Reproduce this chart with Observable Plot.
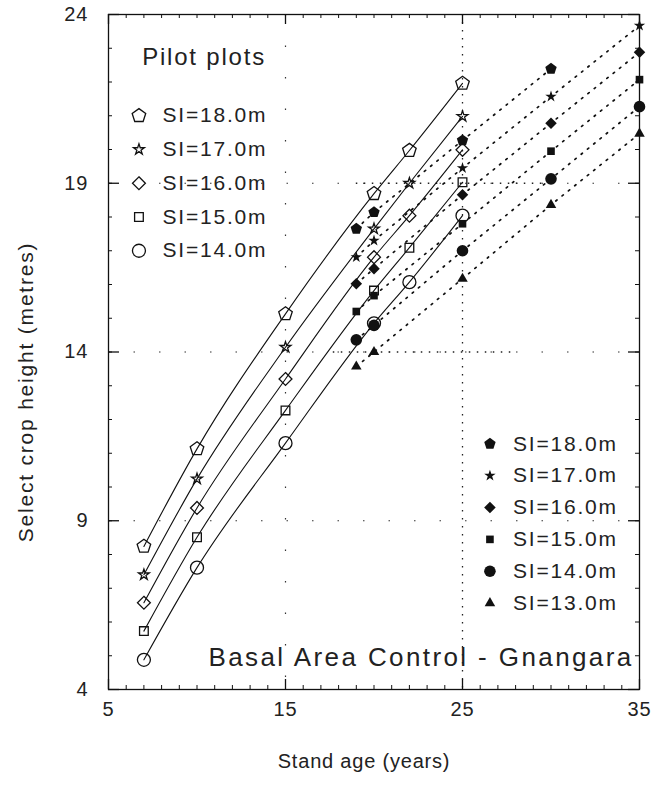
<!DOCTYPE html>
<html><head><meta charset="utf-8">
<script src="https://cdn.jsdelivr.net/npm/d3@7"></script>
<script src="https://cdn.jsdelivr.net/npm/@observablehq/plot@0.6"></script>
<style>
html,body{margin:0;padding:0;background:#fff;}
#chart{width:666px;height:785px;}
</style></head><body><div id="chart"></div>
<script>
// ---- data ----
const pilotAges = [7, 10, 15, 20, 22, 25];
const pilotSI18 = [8.24, 11.13, 15.13, 18.69, 19.97, 21.96];
const pilotSI17 = [7.40, 10.24, 14.14, 17.65, 19.00, 20.98];
const pilotSI16 = [6.57, 9.38, 13.20, 16.81, 18.04, 19.99];
const pilotSI15 = [5.73, 8.51, 12.27, 15.82, 17.09, 19.03];
const pilotSI14 = [4.88, 7.61, 11.30, 14.85, 16.07, 18.04];
const pilotLabels = ["SI=18.0m", "SI=17.0m", "SI=16.0m", "SI=15.0m", "SI=14.0m"];

const projAges = [19, 20, 25, 30, 35];
const projSI18 = [17.65, 18.14, 20.27, 22.39, null];
const projSI17 = [16.81, 17.30, 19.45, 21.57, 23.67];
const projSI16 = [16.02, 16.47, 18.66, 20.78, 22.88];
const projSI15 = [15.20, 15.67, 17.80, 19.95, 22.07];
const projSI14 = [14.36, 14.79, 17.00, 19.13, 21.27];
const projSI13 = [13.57, 14.00, 16.17, 18.36, 20.47];
const projLabels = ["SI=18.0m", "SI=17.0m", "SI=16.0m", "SI=15.0m", "SI=14.0m", "SI=13.0m"];

const xTicks = [5, 15, 25, 35];
const yTicks = [4, 9, 14, 19, 24];
const xTitle = "Stand age (years)";
const yTitle = "Select crop height (metres)";
const pilotTitle = "Pilot plots";
const siteTitle = "Basal Area Control - Gnangara";

// ---- styles ----
const pentagon = {draw(ctx, size) {
  const r = Math.sqrt(size / (2.5 * Math.sin(2 * Math.PI / 5)));
  for (let i = 0; i < 5; i++) {
    const a = -Math.PI / 2 + i * 2 * Math.PI / 5;
    const x = r * Math.cos(a), y = r * Math.sin(a);
    i ? ctx.lineTo(x, y) : ctx.moveTo(x, y);
  }
  ctx.closePath();
}};
const pilotStyle = [
  {symbol: pentagon, r: 6.2}, {symbol: "star", r: 3.4}, {symbol: "diamond2", r: 5.8},
  {symbol: "square", r: 4.9}, {symbol: "circle", r: 6.5}];
const projStyle = [
  {symbol: pentagon, r: 5.2}, {symbol: "star", r: 3.6}, {symbol: "diamond2", r: 5.2},
  {symbol: "square", r: 4.3}, {symbol: "circle", r: 5.8}, {symbol: "triangle", r: 3.9}];

const FONT = "Liberation Sans, Arial, Helvetica, sans-serif";
const TXT = "#222";
const W = 666, H = 785, ML = 108, MR = 27, MT = 14, MB = 96;
const PW = W - ML - MR, PH = H - MT - MB;

const pilotSeries = [pilotSI18, pilotSI17, pilotSI16, pilotSI15, pilotSI14];
const projSeries = [projSI18, projSI17, projSI16, projSI15, projSI14, projSI13];
const pilotRows = pilotSeries.map(v => pilotAges.map((a, j) => ({age: a, h: v[j]})));
const projRows = projSeries.map(v => projAges.map((a, j) => ({age: a, h: v[j]})).filter(d => d.h != null));

// legend layout (data space)
const legL = pilotLabels.map((t, i) => ({t, y: 21 - i}));
const legR = projLabels.map((t, i) => ({t, y: 11.28 - i * 0.944}));

const minorX = d3.range(5, 36, 1);
const minorY = d3.range(4, 24.01, 1);

const marks = [];
// sparse dotted grid
marks.push(Plot.ruleY([9, 14, 19], {stroke: "#333", strokeWidth: 1.2, strokeDasharray: "1.5,24"}));
marks.push(Plot.ruleX([15], {stroke: "#333", strokeWidth: 1.2, strokeDasharray: "1.5,30"}));
marks.push(Plot.ruleX([25], {stroke: "#222", strokeWidth: 1.3, strokeDasharray: "1.5,6.5"}));
marks.push(Plot.ruleY([19], {x1: 19, x2: 29.5, stroke: "#222", strokeWidth: 1.3, strokeDasharray: "1.5,6.5"}));
marks.push(Plot.ruleY([14], {x1: 17.7, x2: 28, stroke: "#222", strokeWidth: 1.3, strokeDasharray: "1.5,6.5"}));
// projected dotted lines
projRows.forEach(rows => marks.push(Plot.line(rows, {x: "age", y: "h", stroke: "#111", strokeWidth: 1.7, strokeDasharray: "1.6,6.5", clip: true})));
// pilot solid curves
pilotRows.forEach(rows => marks.push(Plot.line(rows, {x: "age", y: "h", stroke: "#111", strokeWidth: 1.1, curve: "monotone-x"})));
// markers
pilotRows.forEach((rows, i) => marks.push(Plot.dot(rows, {x: "age", y: "h", symbol: pilotStyle[i].symbol, r: pilotStyle[i].r, stroke: "#111", strokeWidth: 1.3, fill: "none"})));
projRows.forEach((rows, i) => marks.push(Plot.dot(rows, {x: "age", y: "h", symbol: projStyle[i].symbol, r: projStyle[i].r, fill: "#111", stroke: "none"})));
// legends
legL.forEach((d, i) => marks.push(Plot.dot([d], {x: () => 6.72, y: "y", symbol: pilotStyle[i].symbol, r: pilotStyle[i].r, stroke: "#111", strokeWidth: 1.3, fill: "white"})));
marks.push(Plot.text(legL, {x: () => 8.05, y: "y", text: "t", textAnchor: "start", fontSize: 21, fontFamily: FONT, fill: TXT}));
legR.forEach((d, i) => marks.push(Plot.dot([d], {x: () => 26.55, y: "y", symbol: projStyle[i].symbol, r: projStyle[i].r, fill: "#111"})));
marks.push(Plot.text(legR, {x: () => 27.85, y: "y", text: "t", textAnchor: "start", fontSize: 21, fontFamily: FONT, fill: TXT}));
marks.push(Plot.text([pilotTitle], {x: () => 6.9, y: () => 22.73, text: d => d, textAnchor: "start", fontSize: 24, fontFamily: FONT, fill: TXT}));
marks.push(Plot.text([siteTitle], {x: () => 10.65, y: () => 4.93, text: d => d, textAnchor: "start", fontSize: 26, fontFamily: FONT, fill: TXT}));
// frame + inward ticks
marks.push(Plot.frame({stroke: "#111", strokeWidth: 1.3}));
marks.push(Plot.tickX(minorX, {x: d => d, insetTop: PH - 4, stroke: "#111"}));
marks.push(Plot.tickX(minorX, {x: d => d, insetBottom: PH - 4, stroke: "#111"}));
marks.push(Plot.tickX(xTicks, {x: d => d, insetTop: PH - 10, stroke: "#111", strokeWidth: 1.3}));
marks.push(Plot.tickX(xTicks, {x: d => d, insetBottom: PH - 10, stroke: "#111", strokeWidth: 1.3}));
marks.push(Plot.tickY(minorY, {y: d => d, insetRight: PW - 4, stroke: "#111"}));
marks.push(Plot.tickY(minorY, {y: d => d, insetLeft: PW - 4, stroke: "#111"}));
marks.push(Plot.tickY(yTicks, {y: d => d, insetRight: PW - 11, stroke: "#111", strokeWidth: 1.3}));
marks.push(Plot.tickY(yTicks, {y: d => d, insetLeft: PW - 11, stroke: "#111", strokeWidth: 1.3}));
// tick labels
marks.push(Plot.text(xTicks, {x: d => d, frameAnchor: "bottom", dy: 26, text: d => String(d), textAnchor: "middle", fontSize: 20, fontFamily: FONT, fill: TXT}));
marks.push(Plot.text(yTicks, {y: d => d, frameAnchor: "left", dx: -20, text: d => String(d), textAnchor: "end", fontSize: 20, fontFamily: FONT, fill: TXT}));
// axis titles
marks.push(Plot.text([xTitle], {frameAnchor: "bottom", dx: -10, dy: 78, text: d => d, textAnchor: "middle", fontSize: 20, fontFamily: FONT, fill: TXT}));
marks.push(Plot.text([yTitle], {frameAnchor: "left", dx: -82, dy: 40, rotate: -90, text: d => d, textAnchor: "middle", fontSize: 21, fontFamily: FONT, fill: TXT}));

const chart = Plot.plot({
  width: W, height: H,
  marginLeft: ML, marginRight: MR, marginTop: MT, marginBottom: MB,
  x: {domain: [5, 35], axis: null},
  y: {domain: [4, 24], axis: null},
  style: {background: "white", fontFamily: FONT, overflow: "visible"},
  marks
});

// letter spacing to mimic the wide plotter lettering
const spacing = new Map([
  ...pilotLabels.map(t => [t, 1.8]), ...projLabels.map(t => [t, 1.8]),
  [pilotTitle, 1.8], [siteTitle, 2.4], [xTitle, 0.8], [yTitle, 1.8],
  ...xTicks.map(t => [String(t), 1]), ...yTicks.map(t => [String(t), 1])
]);
d3.select(chart).selectAll("text").each(function() {
  const t = this.textContent;
  if (spacing.has(t)) this.style.letterSpacing = spacing.get(t) + "px";
});
document.getElementById("chart").appendChild(chart);
</script></body></html>
